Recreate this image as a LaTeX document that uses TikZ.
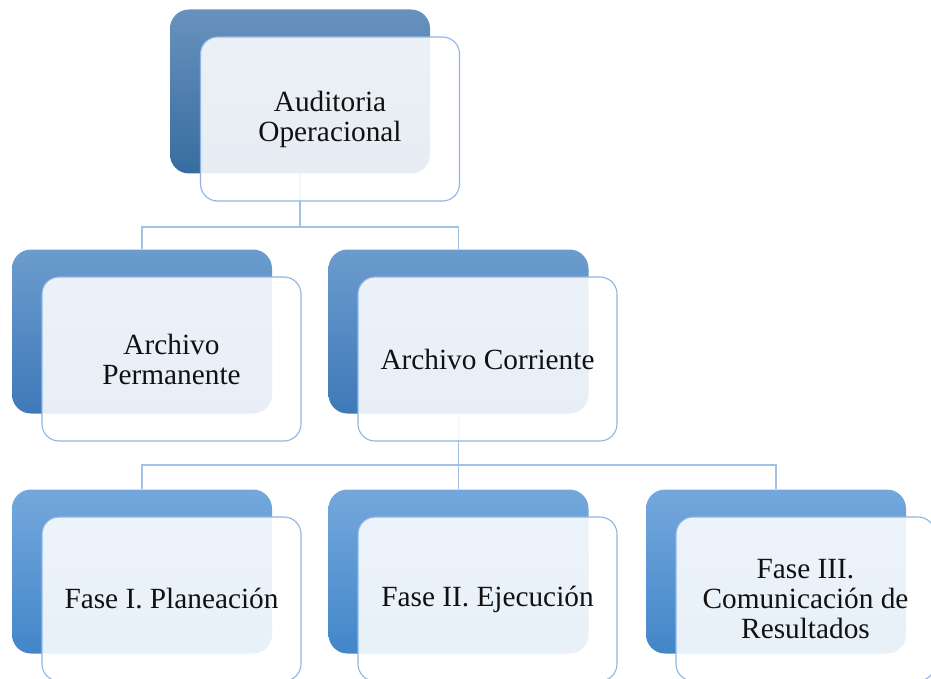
\documentclass[tikz,border=0pt]{standalone}
\usepackage{fontspec}
\setmainfont{Liberation Serif}
\newfontfamily\tnr{Liberation Serif}
\usetikzlibrary{calc}
\definecolor{linec}{HTML}{A3C1E5}
\definecolor{framec}{HTML}{8FB5E3}
\definecolor{txtc}{HTML}{111111}
\tikzset{
  backbox/.style={rounded corners=19pt, minimum width=260pt, minimum height=164pt, inner sep=0pt, draw=none},
  frontbox/.style={rounded corners=17pt, minimum width=259pt, minimum height=164pt, inner sep=2pt,
     draw=framec, line width=1.1pt, fill=white, fill opacity=0.88, text opacity=1, text=txtc,
     align=center, font=\tnr\fontsize{29.3}{30}\selectfont},
  conn/.style={draw=linec, line width=1.3pt},
}
\begin{document}
\begin{tikzpicture}[x=1pt,y=-1pt]
\useasboundingbox (0,0) rectangle (931,679);
\clip (0,0) rectangle (931,679);
% back boxes
\node[backbox, top color={rgb,255:red,104;green,146;blue,189}, bottom color={rgb,255:red,56;green,108;blue,160}] (td) at (300,91.5) {};
\node[backbox, top color={rgb,255:red,108;green,156;blue,206}, bottom color={rgb,255:red,62;green,121;blue,184}] (ad) at (142,331.5) {};
\node[backbox, top color={rgb,255:red,108;green,156;blue,206}, bottom color={rgb,255:red,62;green,121;blue,184}] (cd) at (458.5,331.5) {};
\node[backbox, top color={rgb,255:red,116;green,168;blue,220}, bottom color={rgb,255:red,66;green,134;blue,201}] (f1d) at (142,571.5) {};
\node[backbox, top color={rgb,255:red,116;green,168;blue,220}, bottom color={rgb,255:red,66;green,134;blue,201}] (f2d) at (458.5,571.5) {};
\node[backbox, top color={rgb,255:red,116;green,168;blue,220}, bottom color={rgb,255:red,66;green,134;blue,201}] (f3d) at (776,571.5) {};
% connectors
\coordinate (j1) at (300,227);
\coordinate (j2) at (458.5,465);
\draw[conn] (td.south) -- (j1) -| (ad.north);
\draw[conn] (j1) -| (cd.north);
\draw[conn] (cd.south) -- (j2) -| (f1d.north);
\draw[conn] (j2) -- (f2d.north);
\draw[conn] (j2) -| (f3d.north);
% front boxes
\node[frontbox] (t) at (330,119) {Auditoria\\Operacional};
\node[frontbox] (a) at (171.5,359) {Archivo\\Permanente};
\node[frontbox] (c) at (487.5,359) {Archivo Corriente};
\node[frontbox] (f1) at (171.5,599) {Fase I. Planeación};
\node[frontbox] (f2) at (487.5,599) {Fase II. Ejecución};
\node[frontbox] (f3) at (805.5,599) {Fase III.\\Comunicación de\\Resultados};
\end{tikzpicture}
\end{document}
